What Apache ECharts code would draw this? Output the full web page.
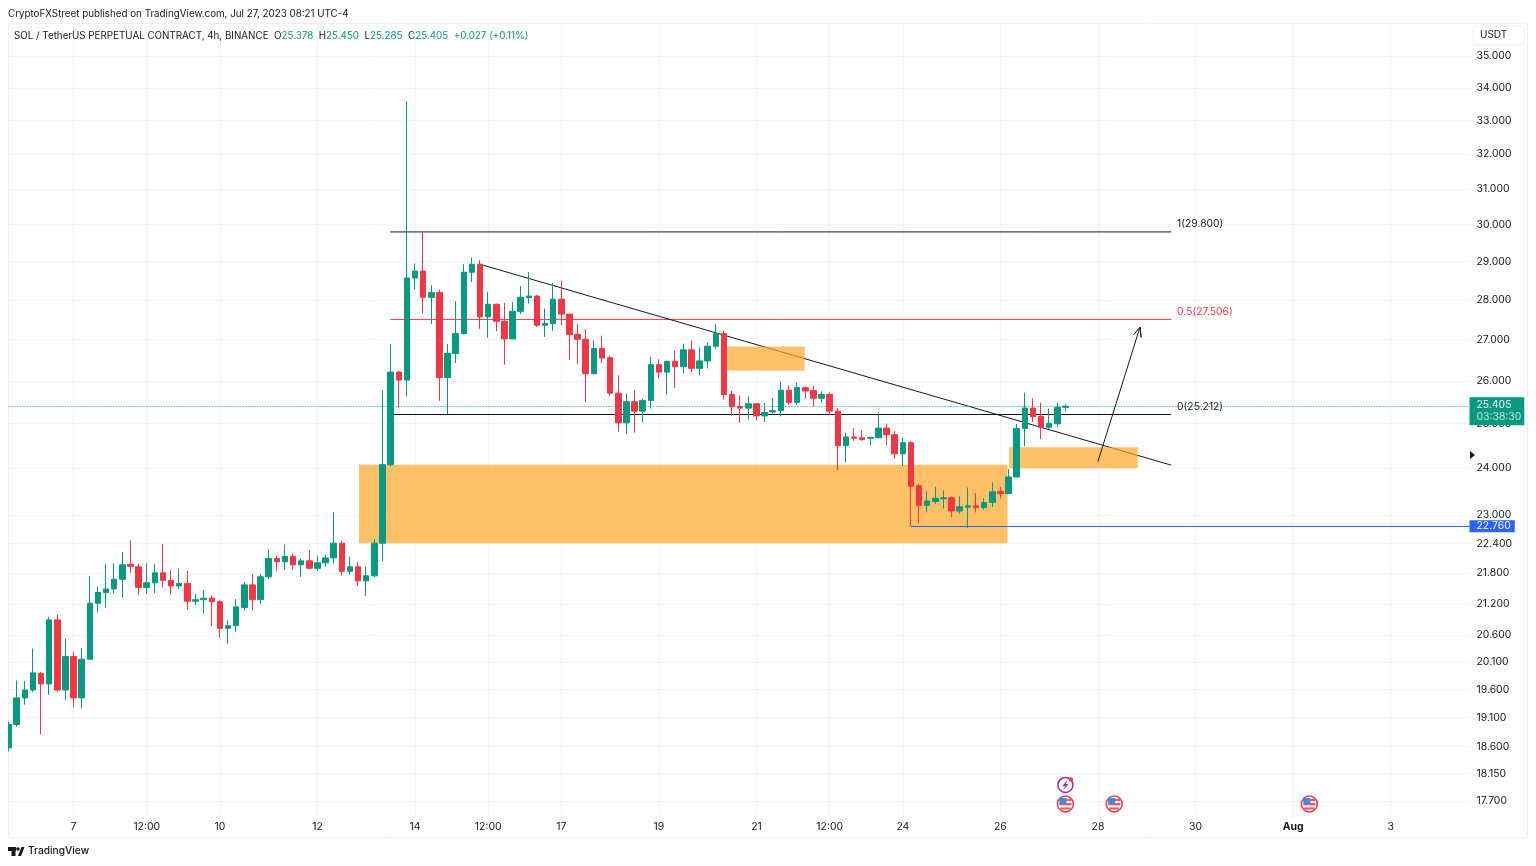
<!DOCTYPE html>
<html><head><meta charset="utf-8">
<style>html,body{margin:0;padding:0;background:#fff}#c{width:1536px;height:866px}</style>
<script src="https://cdn.jsdelivr.net/npm/echarts@6/dist/echarts.min.js"></script>
</head><body><div id="c"></div>
<script>
const opens=[18.58,18.98,19.45,19.59,19.89,19.70,20.89,19.59,20.20,19.45,
20.15,21.21,21.42,21.49,21.68,21.98,21.93,21.52,21.61,21.81,
21.66,21.55,21.60,21.25,21.28,21.31,21.24,20.73,20.78,21.13,
21.57,21.28,21.73,22.10,22.03,22.14,21.97,22.05,21.90,22.01,
22.11,22.41,21.84,21.93,21.65,21.75,22.41,24.08,26.21,26.02,
28.57,28.75,28.07,28.19,26.08,26.66,27.15,28.72,28.93,27.57,
27.89,27.46,27.02,27.71,28.06,28.10,27.36,27.40,28.02,27.64,
27.13,27.01,26.17,26.78,26.56,25.71,25.02,25.51,25.29,25.54,
26.39,26.21,26.47,26.34,26.75,26.30,26.48,26.84,27.15,25.68,
25.40,25.36,25.46,25.18,25.27,25.30,25.78,25.49,25.84,25.77,
25.59,25.68,25.29,24.50,24.70,24.68,24.67,24.68,24.90,24.75,
24.32,24.57,23.62,23.20,23.28,23.34,23.36,23.08,23.16,23.19,
23.15,23.26,23.50,23.45,23.81,24.89,25.36,25.17,24.92,25.00,
25.378];
const closes=[18.98,19.45,19.59,19.90,19.70,20.89,19.59,20.20,19.45,20.15,
21.21,21.42,21.49,21.68,21.97,21.94,21.52,21.61,21.81,21.66,
21.55,21.60,21.25,21.28,21.31,21.24,20.73,20.78,21.14,21.57,
21.28,21.73,22.10,22.03,22.14,21.97,22.05,21.90,22.01,22.11,
22.41,21.84,21.93,21.65,21.75,22.41,24.08,26.21,26.02,28.57,
28.75,28.07,28.19,26.08,26.66,27.15,28.72,28.93,27.57,27.89,
27.46,27.02,27.71,28.07,28.10,27.36,27.40,28.02,27.64,27.13,
27.01,26.17,26.78,26.55,25.71,25.02,25.51,25.29,25.54,26.39,
26.21,26.47,26.34,26.75,26.30,26.48,26.84,27.15,25.68,25.39,
25.36,25.46,25.18,25.26,25.30,25.78,25.49,25.84,25.76,25.59,
25.68,25.29,24.50,24.70,24.67,24.64,24.69,24.90,24.75,24.32,
24.57,23.61,23.20,23.29,23.35,23.36,23.08,23.17,23.19,23.15,
23.26,23.49,23.45,23.81,24.89,25.36,25.16,24.92,25.01,25.38,
25.405];
const lows=[18.52,18.94,19.33,19.55,18.81,19.50,19.56,19.41,19.28,19.26,
20.15,21.03,21.12,21.41,21.32,21.81,21.37,21.39,21.41,21.52,
21.38,21.49,21.09,21.17,21.01,20.77,20.55,20.44,20.66,21.07,
21.07,21.19,21.69,21.84,21.87,21.88,21.73,21.90,21.85,21.93,
21.99,21.75,21.77,21.55,21.35,21.72,22.04,24.04,25.37,25.63,
28.27,27.66,27.39,25.53,25.22,26.43,27.13,28.46,27.27,27.05,
27.21,26.39,27.02,27.64,27.91,27.32,27.07,27.22,27.36,26.51,
26.40,25.50,26.17,26.43,25.66,24.82,24.76,24.80,25.03,25.35,
26.06,25.67,25.83,26.18,26.21,26.13,26.30,26.79,25.56,25.18,
25.02,25.10,25.08,25.04,25.23,25.17,25.44,25.44,25.58,25.39,
25.49,25.20,23.95,24.13,24.61,24.61,24.51,24.68,24.51,24.21,
24.05,22.77,22.82,23.05,23.23,23.13,22.95,23.03,22.72,23.05,
23.11,23.16,23.35,23.45,23.81,24.49,25.04,24.65,24.88,24.93,
25.285];
const highs=[19.03,19.76,19.75,20.35,19.92,20.95,20.99,20.53,20.29,20.36,
21.75,21.54,21.99,22.00,22.23,22.47,21.99,22.00,21.99,22.39,
21.87,21.89,21.85,21.39,21.47,21.36,21.27,20.88,21.29,21.63,
21.79,21.79,22.28,22.15,22.38,22.19,22.09,22.27,22.15,22.17,
23.06,22.46,22.13,22.02,21.94,22.50,25.78,26.89,26.24,33.59,
28.95,29.80,28.38,28.27,26.90,27.97,28.93,29.11,29.04,28.21,
27.91,27.93,27.94,28.36,28.72,28.13,27.78,28.44,28.50,27.64,
27.39,27.26,26.98,27.10,26.60,26.13,25.70,25.79,25.58,26.58,
26.52,26.49,26.73,26.90,26.98,26.81,26.92,27.39,27.23,25.76,
25.66,25.63,25.48,25.48,25.60,25.99,25.89,25.96,25.87,25.88,
25.75,25.73,25.36,24.80,24.90,24.85,24.70,25.26,25.00,24.83,
24.68,24.61,23.66,23.50,23.60,23.52,23.39,23.39,23.58,23.46,
23.35,23.69,23.59,23.98,24.99,25.72,25.59,25.49,25.35,25.49,
25.45];

const priceTicks=[35,34,33,32,31,30,29,28,27,26,25,24,23,22.4,21.8,21.2,20.6,20.1,19.6,19.1,18.6,18.15,17.7];
const timeTickPos=[8,17,26,38,50,59,68,80,92,101,110,122,134,146,158,170];
const timeTickLabels=['7','12:00','10','12','14','12:00','17','19','21','12:00','24','26','28','30','Aug','3'];

const fibLevels=[29.8,27.506,25.212];
const fibNames=['1(29.800)','0.5(27.506)','0(25.212)'];
const fibColors=['#131722','#F23645','#131722'];
const fibSpan=[46.96,143.0];
const zones=[[43.11,122.88,24.08,22.41],[123.07,138.9,24.47,24.0],[88.41,97.93,26.83,26.25]];
const trendLine=[[58.0,28.93],[143.0,24.07]];
const arrowLine=[[134.0,24.15],[139.17,27.31],[139.31,27.06],[139.17,27.31],[138.38,27.12]];
const lastPrice=25.405, countdown='03:38:30';
const stopLevel=22.76, stopStart=111;
const flagEvents=[[130,17.65],[136,17.65],[160,17.65]];
const boltEvents=[[130,17.96]];

const XMAX=179.7, UP='#089981', DOWN='#F23645', GRID='#f3f4f7', FONT='Inter, "Liberation Sans", sans-serif';
const candles=opens.map((o,i)=>[i,o,closes[i],lows[i],highs[i]]);

const fibSeries=fibLevels.map((lv,k)=>({
  type:'line',z:1,silent:true,symbol:'none',animation:false,
  data:[[fibSpan[0],lv],[fibSpan[1],lv]],
  lineStyle:{color:fibColors[k],width:1}
}));
const fibLabels={
  type:'scatter',z:6,silent:true,symbolSize:0,animation:false,itemStyle:{opacity:1},
  data:fibLevels.map((lv,k)=>({value:[fibSpan[1],lv],
    label:{show:true,position:'right',distance:6,offset:[0,-8],
      formatter:fibNames[k],color:fibColors[k],fontSize:10.3,fontFamily:FONT}}))
};
const priceTags={
  type:'scatter',z:7,silent:true,symbolSize:0,animation:false,clip:false,itemStyle:{opacity:1},
  data:[
    {value:[XMAX,lastPrice],label:{show:true,position:'right',distance:0,offset:[0,5],
      padding:[2,3,2,7],backgroundColor:UP,
      formatter:'{a|25.405}\n{b|'+countdown+'}',
      rich:{a:{color:'#fff',fontSize:10.4,fontFamily:FONT,lineHeight:12},
            b:{color:'#bfe6dd',fontSize:10.4,fontFamily:FONT,lineHeight:12}}}},
    {value:[XMAX,stopLevel],label:{show:true,position:'right',distance:0,
      padding:[1,4,1,7],backgroundColor:'#2962FF',
      formatter:'22.760',color:'#fff',fontSize:10.4,fontFamily:FONT}}
  ]
};
const dottedStyle={color:UP,type:[1,2],width:1}, stopStyle={color:'#2962FF',type:'solid',width:1};

const option={
  animation:false,
  backgroundColor:'#fff',
  title:[
    {text:'CryptoFXStreet published on TradingView.com, Jul 27, 2023 08:21 UTC-4',left:8,top:9,padding:0,
     textStyle:{fontSize:9.8,fontWeight:'normal',color:'#131722',fontFamily:FONT}},
    {text:'SOL / TetherUS PERPETUAL CONTRACT, 4h, BINANCE  O{g|25.378}  H{g|25.450}  L{g|25.285}  C{g|25.405}  {g|+0.027} {g|(+0.11%)}',
     left:14,top:31,padding:0,
     textStyle:{fontSize:9.8,fontWeight:'normal',color:'#131722',fontFamily:FONT,
       rich:{g:{color:UP,fontSize:9.8,fontFamily:FONT}}}},
    {text:'TradingView',left:28,top:846,padding:0,textStyle:{fontSize:10.2,fontWeight:500,color:'#131722',fontFamily:FONT}}
  ],
  grid:{left:8.5,right:66.5,top:24,bottom:49,containLabel:false},
  xAxis:{type:'value',min:0,max:XMAX,scale:true,
    axisLine:{show:false},axisTick:{show:false,customValues:timeTickPos},
    splitLine:{show:true,lineStyle:{color:GRID,width:1}},
    axisLabel:{customValues:timeTickPos,margin:5,fontSize:10.4,color:'#131722',fontFamily:FONT,hideOverlap:false,
      showMinLabel:true,showMaxLabel:true,
      formatter:v=>{const s=timeTickLabels[timeTickPos.indexOf(v)];return s==='Aug'?'{b|Aug}':s;},
      rich:{b:{fontWeight:'bold',fontSize:10.4,color:'#131722',fontFamily:FONT}}}
  },
  yAxis:{type:'log',logBase:10,min:17.44,max:36.05,position:'right',
    axisLine:{show:true,lineStyle:{color:'#eef0f4'}},
    axisTick:{show:false,customValues:priceTicks},
    splitLine:{show:true,lineStyle:{color:GRID,width:1}},
    minorTick:{show:false},minorSplitLine:{show:false},
    axisLabel:{customValues:priceTicks,margin:7,fontSize:10.4,color:'#131722',fontFamily:FONT,
      hideOverlap:false,showMinLabel:true,showMaxLabel:true,formatter:v=>Number(v).toFixed(3)}
  },
  series:[
    ...fibSeries,
    {type:'line',z:1,silent:true,symbol:'none',data:trendLine,lineStyle:{color:'#131722',width:1}},
    {type:'custom',z:2,silent:true,clip:true,data:zones,
     encode:{x:[0,1],y:[2,3]},
     renderItem:(p,api)=>{
       const a=api.coord([api.value(0),api.value(2)]),b=api.coord([api.value(1),api.value(3)]);
       return {type:'rect',shape:{x:a[0],y:a[1],width:b[0]-a[0],height:b[1]-a[1]},style:{fill:'rgba(255,167,38,0.7)'}};
     }},
    {type:'line',z:4,silent:true,symbol:'none',data:arrowLine,lineStyle:{color:'#131722',width:1}},
    {type:'candlestick',z:3,barWidth:6,data:candles,
     encode:{x:0,y:[1,2,3,4]},
     itemStyle:{color:UP,color0:DOWN,borderColor:UP,borderColor0:DOWN,borderWidth:1},
     markLine:{silent:true,symbol:'none',animation:false,z:5,label:{show:false},
       data:[
         [{coord:[0,lastPrice],lineStyle:dottedStyle},{coord:[XMAX,lastPrice],lineStyle:dottedStyle}],
         [{coord:[stopStart,stopLevel],lineStyle:stopStyle},{coord:[XMAX,stopLevel],lineStyle:stopStyle}]
       ]}},
    fibLabels,
    priceTags,
    {type:'custom',z:6,silent:true,clip:false,data:flagEvents,encode:{x:0,y:1},
     renderItem:(p,api)=>{
       const c=api.coord([api.value(0),api.value(1)]);
       return {type:'group',x:c[0],y:c[1],children:[
         {type:'circle',shape:{cx:0,cy:0,r:8},style:{fill:'#fff',stroke:'#F23645',lineWidth:1.5}},
         {type:'rect',shape:{x:-6,y:-5,width:12,height:2.2},style:{fill:'#F7525F'}},
         {type:'rect',shape:{x:-6,y:-1,width:12,height:2.4},style:{fill:'#F7525F'}},
         {type:'rect',shape:{x:-5,y:3.5,width:10,height:2},style:{fill:'#F7525F'}},
         {type:'rect',shape:{x:-6,y:-6,width:7,height:6},style:{fill:'#3D8BE8'}}
       ]};
     }},
    {type:'custom',z:6,silent:true,clip:false,data:boltEvents,encode:{x:0,y:1},
     renderItem:(p,api)=>{
       const c=api.coord([api.value(0),api.value(1)]);
       return {type:'group',x:c[0],y:c[1],children:[
         {type:'circle',shape:{cx:0,cy:0,r:7.5},style:{fill:'#fff',stroke:'#9C27B0',lineWidth:1.5}},
         {type:'polygon',shape:{points:[[2,-5],[-3,1],[-0.5,1],[-2,5],[3,-1],[0.5,-1]]},style:{fill:'#9C27B0'}},
         {type:'circle',shape:{cx:5.5,cy:-5.5,r:2.2},style:{fill:'#F23645'}}
       ]};
     }}
  ],
  graphic:[
    {type:'rect',silent:true,z:100,shape:{x:0,y:712,width:8,height:44},style:{fill:'#fff'}},
    {type:'rect',silent:true,z:-1,shape:{x:8.5,y:23.5,width:1519,height:814},style:{fill:'none',stroke:'#eef0f4',lineWidth:1}},
    {type:'rect',silent:true,shape:{x:1473,y:26,width:52,height:19,r:4},style:{fill:'#fff',stroke:'#eef0f4',lineWidth:1}},
    {type:'text',silent:true,x:1480,y:30,style:{text:'USDT',fontSize:10,fill:'#131722',fontFamily:FONT}},
    {type:'polygon',silent:true,shape:{points:[[1470,451],[1475,455],[1470,459]]},style:{fill:'#131722'}},
    {type:'rect',silent:true,shape:{x:8,y:847,width:8,height:4},style:{fill:'#131722'}},
    {type:'rect',silent:true,shape:{x:11.5,y:847,width:4,height:9},style:{fill:'#131722'}},
    {type:'circle',silent:true,shape:{cx:18,cy:849,r:1.8},style:{fill:'#131722'}},
    {type:'polygon',silent:true,shape:{points:[[18,856],[21.5,847],[24.5,847],[21,856]]},style:{fill:'#131722'}}
  ]
};
echarts.init(document.getElementById('c'),null,{renderer:'canvas'}).setOption(option);
</script></body></html>
